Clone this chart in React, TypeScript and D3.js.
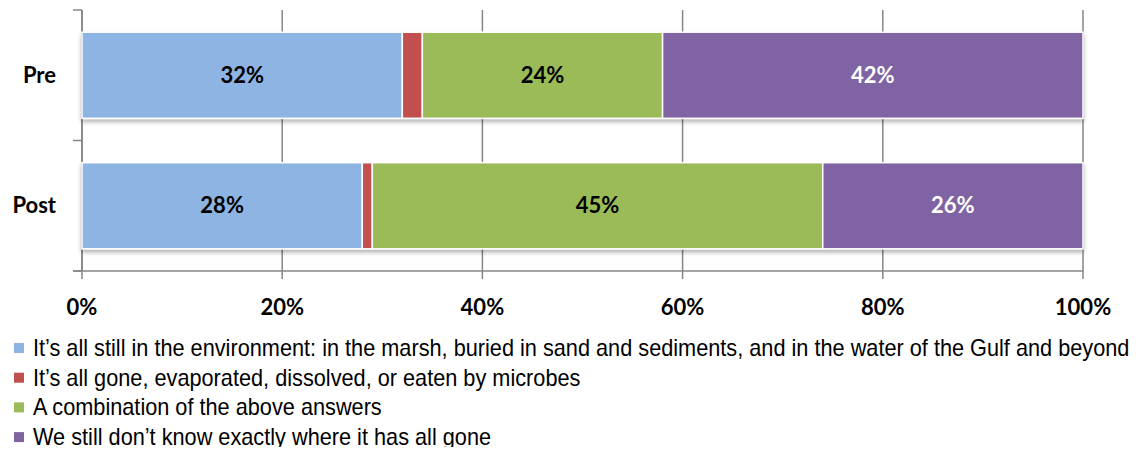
import React from "react";
import * as d3 from "d3";

const categories = ["Pre", "Post"];
const seriesNames = [
  "It\u2019s all still in the environment: in the marsh, buried in sand and sediments, and in the water of the Gulf and beyond",
  "It\u2019s all gone, evaporated, dissolved, or eaten by microbes",
  "A combination of the above answers",
  "We still don\u2019t know exactly where it has all gone",
];
const seriesColors = ["#8EB4E3", "#C0504D", "#9BBB59", "#8064A2"];
const labelColors = ["#000", "#000", "#000", "#fff"];
const showLabel = [true, false, true, true];
const stillEnv = [32, 28];
const allGone = [2, 1];
const combination = [24, 45];
const dontKnow = [42, 26];
const xTicks = [0, 20, 40, 60, 80, 100];

const W = 1144;
const H = 455;
const left = 82;
const right = 1083;
const top = 10;
const bottom = 271;

export default function App() {
  const series = [stillEnv, allGone, combination, dontKnow];
  const x = d3.scaleLinear().domain([0, 100]).range([left, right]);
  const y = d3.scaleBand().domain(categories).range([top, bottom]).paddingInner(0.34).paddingOuter(0.17);
  const rows = categories.map((c, i) => {
    let acc = 0;
    return series.map((s, k) => {
      const x0 = acc;
      acc += s[i];
      return { c, k, x0, x1: acc, v: s[i] };
    });
  });
  const font = "Lato, 'Open Sans', sans-serif";
  const catBounds = [top, ...categories.map((_, i) => top + (bottom - top) * (i + 1) / categories.length)];
  return (
    <div style={{ margin: -8 }}>
      <svg width={W} height={H} style={{ display: "block", background: "#fff" }}>
        <defs>
          <filter id="sh" x="-5%" y="-10%" width="110%" height="130%">
            <feGaussianBlur in="SourceAlpha" stdDeviation="2" />
            <feOffset dx="0" dy="3" result="b" />
            <feComponentTransfer><feFuncA type="linear" slope="0.3" /></feComponentTransfer>
            <feMerge><feMergeNode /><feMergeNode in="SourceGraphic" /></feMerge>
          </filter>
        </defs>
        {xTicks.map((t) => (
          <line key={t} x1={x(t)} x2={x(t)} y1={top} y2={bottom + 8} stroke="#868686" strokeWidth={1.5} />
        ))}
        <line x1={left} x2={left} y1={top} y2={bottom} stroke="#868686" strokeWidth={1.5} />
        <line x1={left - 9} x2={right} y1={bottom} y2={bottom} stroke="#868686" strokeWidth={1.5} />
        {catBounds.map((b, i) => (
          <line key={i} x1={left - 9} x2={left} y1={b} y2={b} stroke="#868686" strokeWidth={1.5} />
        ))}
        {rows.map((r, i) => (
          <g key={i} filter="url(#sh)">
            {r.map((d) => (
              <rect key={d.k} x={x(d.x0)} y={y(d.c)!} width={x(d.x1) - x(d.x0)} height={y.bandwidth()}
                fill={seriesColors[d.k]} stroke="#fff" strokeWidth={1.5} />
            ))}
          </g>
        ))}
        {rows.map((r, i) => (
          <g key={"l" + i}>
            {r.filter((d) => showLabel[d.k]).map((d) => (
              <text key={d.k} x={(x(d.x0) + x(d.x1)) / 2} y={y(d.c)! + y.bandwidth() / 2} dy="0.35em"
                textAnchor="middle" fontFamily={font} fontWeight={700} fontSize={22} fill={labelColors[d.k]}>
                {d.v}%
              </text>
            ))}
          </g>
        ))}
        {categories.map((c) => (
          <text key={c} x={56} y={y(c)! + y.bandwidth() / 2} dy="0.35em" textAnchor="end"
            fontFamily={font} fontWeight={700} fontSize={22} fill="#000">{c}</text>
        ))}
        {xTicks.map((t) => (
          <text key={t} x={x(t)} y={307} dy="0.35em" textAnchor="middle" fontFamily={font} fontWeight={700}
            fontSize={22} fill="#000">{t}%</text>
        ))}
        {seriesNames.map((n, k) => (
          <g key={k} transform={`translate(0, ${348 + k * 29.7})`}>
            <rect x={14} y={-5} width={10} height={10} fill={seriesColors[k]} />
            <text x={33} y={0} dy="0.35em" fontFamily="'Liberation Sans', Arial, sans-serif" fontSize={23}
              fill="#000" transform="translate(33,0) scale(0.944,1) translate(-33,0)">{n}</text>
          </g>
        ))}
      </svg>
    </div>
  );
}
